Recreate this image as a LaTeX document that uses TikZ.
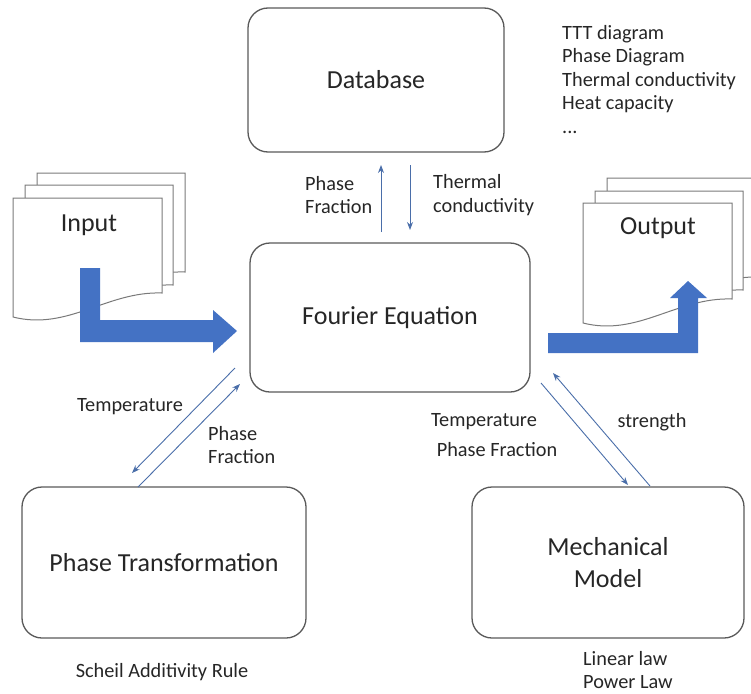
\documentclass[tikz,border=0pt]{standalone}
\usepackage{fontspec}
\setmainfont{Carlito}
\usepackage{xcolor}
\usetikzlibrary{arrows.meta}
\definecolor{boxgray}{HTML}{595959}
\definecolor{txtgray}{HTML}{262626}
\definecolor{thinblue}{HTML}{4A6EA9}
\definecolor{fatblue}{HTML}{4472C4}
\newcommand{\bigtxt}{\fontsize{26}{30}\selectfont}
\newcommand{\smalltxt}{\fontsize{20.3}{23.5}\selectfont}
% one sheet of a document stack, wavy bottom
\newcommand{\docsheet}[4]{%
  \draw[sheet] (#1,#2) -- (#3,#2) -- (#3,#4-24)
    .. controls (#3-55,#4-26) and (#1+55,#4+14) .. (#1,#4) -- cycle;}

\begin{document}
\begin{tikzpicture}[x=1pt,y=-1pt,
  block/.style={draw=boxgray,line width=1.3pt,rounded corners=20pt,text=txtgray,font=\bigtxt,align=center},
  lbl/.style={text=txtgray,font=\smalltxt,align=left,inner sep=0pt},
  thin/.style={draw=thinblue,line width=0.9pt,-{Stealth[length=8pt,width=6pt]}},
  sheet/.style={draw=boxgray!80,line width=1pt,fill=white},
  fat/.style={fill=fatblue,draw=none}]
\useasboundingbox (0,0) rectangle (751,693);

% boxes
\node[block,minimum width=256pt,minimum height=144pt] (db) at (376,80) {Database};
\node[block,minimum width=280pt,minimum height=149pt] (fourier) at (390,317.5) {Fourier Equation};
\node[block,minimum width=284pt,minimum height=151pt] (phase) at (164,562.5) {Phase Transformation};
\node[block,minimum width=272pt,minimum height=151pt] (mech) at (608,562.5) {Mechanical\\[2pt]Model};

% input stack
\docsheet{37}{173}{185}{296}
\docsheet{25}{185}{173}{309}
\docsheet{13}{198}{162}{317}
\node[text=txtgray,font=\bigtxt] (input) at (89,225) {Input};
\fill[fat] (80,268) -- (100,268) -- (100,320) -- (213,320) -- (213,310) -- (237,331)
  -- (213,353) -- (213,342) -- (80,342) -- cycle;

% output stack
\docsheet{607}{178}{760}{301}
\docsheet{595}{191}{743}{314}
\docsheet{583}{203}{732}{323}
\node[text=txtgray,font=\bigtxt] (output) at (658,228) {Output};
\fill[fat] (548,333) -- (678,333) -- (678,298) -- (670,298) -- (688,281) -- (707,298)
  -- (698,298) -- (698,353) -- (548,353) -- cycle;

% arrow ends
\coordinate (dbL) at (381,165);
\coordinate (dbR) at (410,165);
\coordinate (fuL) at (381,232);
\coordinate (fuR) at (410,230);
\coordinate (fuA) at (235,368);
\coordinate (fuB) at (240,384);
\coordinate (phA) at (132,473);
\coordinate (phB) at (138,487);
\coordinate (fuC) at (541,383);
\coordinate (fuD) at (553,373);
\coordinate (meC) at (628,485);
\coordinate (meD) at (650,486);

\draw[thin] (fuL) -- (dbL);
\draw[thin] (dbR) -- (fuR);
\draw[thin] (fuA) -- (phA);
\draw[thin] (phB) -- (fuB);
\draw[thin] (fuC) -- (meC);
\draw[thin] (meD) -- (fuD);

% labels
\node[lbl,anchor=west] (lpf) at (305,195) {Phase\\Fraction};
\node[lbl,anchor=west] (ltc) at (433,195) {Thermal\\conductivity};
\node[lbl,anchor=north west] (list) at (562,25) {TTT diagram\\Phase Diagram\\Thermal conductivity\\Heat capacity\\...};
\node[lbl] (ltemp) at (130,407) {Temperature};
\node[lbl,anchor=west] (lpf2) at (208,445) {Phase\\Fraction};
\node[lbl] (ltemp2) at (484,422) {Temperature};
\node[lbl] (lpf3) at (497,450) {Phase Fraction};
\node[lbl] (lstr) at (652,422) {strength};
\node[lbl] (lscheil) at (162,672) {Scheil Additivity Rule};
\node[lbl,anchor=west] (llaw) at (583,670) {Linear law\\Power Law};
\end{tikzpicture}
\end{document}
